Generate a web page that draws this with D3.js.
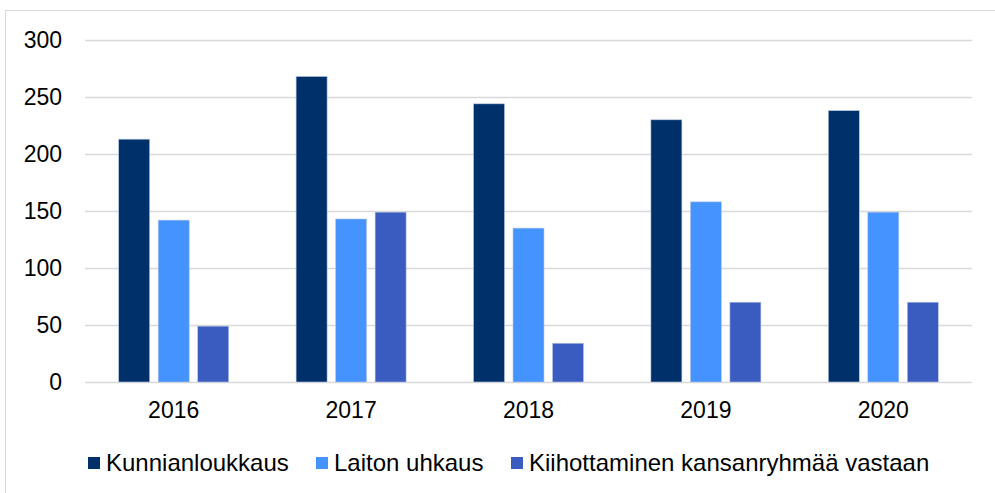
<!DOCTYPE html>
<html><head><meta charset="utf-8">
<script src="https://cdn.jsdelivr.net/npm/d3@7"></script>
<style>body{margin:0;background:#fff}svg{display:block;font-family:"Liberation Sans",Arial,sans-serif}</style>
</head><body>
<svg id="c" width="995" height="493"></svg>
<script>
const years = ["2016","2017","2018","2019","2020"];
const seriesNames = ["Kunnianloukkaus","Laiton uhkaus","Kiihottaminen kansanryhmää vastaan"];
const kunnianloukkaus = [213, 268, 244, 230, 238];
const laitonUhkaus = [142, 143, 135, 158, 149];
const kiihottaminen = [49, 149, 34, 70, 70];
const yTicks = [0, 50, 100, 150, 200, 250, 300];
const colors = ["#003069", "#4493FF", "#3A5BBF"];

const svg = d3.select("#c");
const seriesVals = [kunnianloukkaus, laitonUhkaus, kiihottaminen];
const m = {l: 85, r: 972, t: 40, b: 382};
const FONT = "Liberation Sans, Arial, sans-serif";

svg.append("rect").attr("x",5.5).attr("y",10.5).attr("width",1000).attr("height",500)
  .attr("fill","none").attr("stroke","#d9d9d9");

const x = d3.scaleBand().domain(years).range([m.l, m.r]).paddingInner(0).paddingOuter(0);
const y = d3.scaleLinear().domain([0,300]).range([m.b, m.t]);
const xs = d3.scaleBand().domain(d3.range(3)).range([0, x.bandwidth()]).paddingInner(0.215).paddingOuter(0.853);

svg.append("g").selectAll("line").data(yTicks).join("line")
  .attr("x1", m.l).attr("x2", m.r)
  .attr("y1", d => Math.round(y(d))+0.5).attr("y2", d => Math.round(y(d))+0.5)
  .attr("stroke","#d9d9d9").attr("stroke-width",1.5);

const yAxis = d3.axisLeft(y).tickValues(yTicks).tickSize(0).tickPadding(23);
const ga = svg.append("g").attr("transform",`translate(${m.l},0)`).call(yAxis);
ga.select(".domain").remove();
ga.attr("font-family", FONT).attr("font-size", 23);
ga.selectAll("text").attr("fill","#000");

const xAxis = d3.axisBottom(x).tickSize(0).tickPadding(20);
const gx = svg.append("g").attr("transform",`translate(0,${m.b})`).call(xAxis);
gx.select(".domain").remove();
gx.attr("font-family", FONT).attr("font-size", 23);
gx.selectAll("text").attr("fill","#000");

const g = svg.append("g");
years.forEach((yr, i) => {
  seriesVals.forEach((vals, s) => {
    g.append("rect")
      .attr("x", x(yr) + xs(s)).attr("width", xs.bandwidth())
      .attr("y", y(vals[i])).attr("height", y(0) - y(vals[i]))
      .attr("fill", colors[s]).attr("stroke","#b8c7e8").attr("stroke-width",0.6);
  });
});

const legX = [88, 316, 511];
const lg = svg.append("g").attr("font-family", FONT);
seriesNames.forEach((n, s) => {
  lg.append("rect").attr("x", legX[s]).attr("y", 457).attr("width", 12).attr("height", 12).attr("fill", colors[s]);
  lg.append("text").attr("x", legX[s] + 18).attr("y", 471).attr("font-size", 24).attr("fill","#000").text(n);
});
</script>
</body></html>
